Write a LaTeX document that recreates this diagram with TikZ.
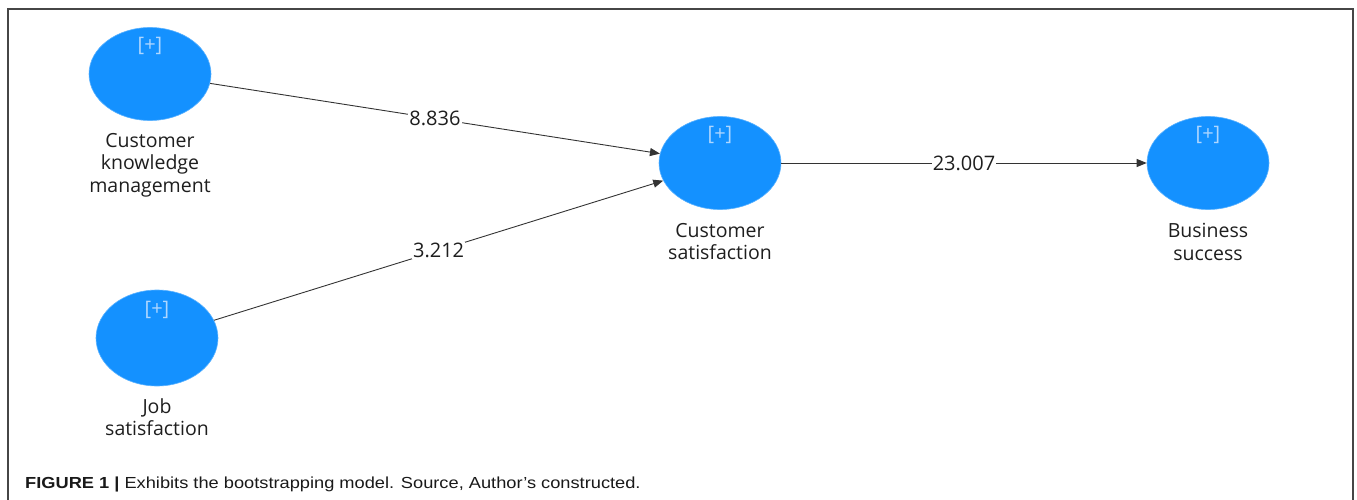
\documentclass[tikz,border=0pt]{standalone}
\usepackage{fontspec}
\setmainfont{Open Sans}
\newfontfamily\capfont{Liberation Sans}
\usetikzlibrary{shapes.geometric,arrows.meta}
\definecolor{lvblue}{RGB}{20,145,255}
\definecolor{plusc}{RGB}{175,215,255}
\definecolor{framec}{RGB}{70,70,70}
\definecolor{txtc}{RGB}{30,30,30}
\tikzset{
  lv/.style={ellipse, fill=lvblue, draw=lvblue!70!white, line width=0.6pt, minimum width=122pt, minimum height=93pt, inner sep=0pt},
  plus/.style={text=plusc, font=\fontsize{20}{22}\selectfont, inner sep=0pt},
  lvname/.style={text=txtc, align=center, font=\fontsize{19.5}{22.5}\selectfont, inner sep=0pt, anchor=north},
  path/.style={draw=black!80, line width=0.9pt, -{Triangle[length=10pt,width=8pt]}},
  coef/.style={fill=white, text=txtc, font=\fontsize{20}{22}\selectfont, inner sep=1pt}
}
\begin{document}
\begin{tikzpicture}[x=1pt,y=-1pt]
\useasboundingbox (0,0) rectangle (1357,500);
\draw[framec, line width=1.5pt] (8,501) -- (8,9) -- (1353,9) -- (1353,501);
\node[lv] (ckm) at (150,74) {};
\node[lv] (cs) at (720,163) {};
\node[lv] (bs) at (1208,163) {};
\node[lv, minimum height=96pt] (js) at (157,338) {};
\node[plus] (ckmp) at (150,46) {[+]};
\node[plus] (csp) at (720,135) {[+]};
\node[plus] (bsp) at (1208,135) {[+]};
\node[plus] (jsp) at (157,310) {[+]};
\node[lvname] (ckml) at (150,133) {Customer\\knowledge\\management};
\node[lvname] (csl) at (720,223) {Customer\\satisfaction};
\node[lvname] (bsl) at (1208,223) {Business\\success};
\node[lvname] (jsl) at (157,398) {Job\\satisfaction};
\draw[path] (ckm) -- node[coef] (c1) {8.836} (cs);
\draw[path] (js) -- node[coef] (c2) {3.212} (cs);
\draw[path] (cs) -- node[coef] (c3) {23.007} (bs);
\node[anchor=west, inner sep=0pt, text=black!90, font=\capfont\fontsize{16}{18}\selectfont] (cap) at (25,484) {\scalebox{1.14}[1]{\textbf{FIGURE 1 |} Exhibits the bootstrapping model. Source, Author’s constructed.}};
\end{tikzpicture}
\end{document}
